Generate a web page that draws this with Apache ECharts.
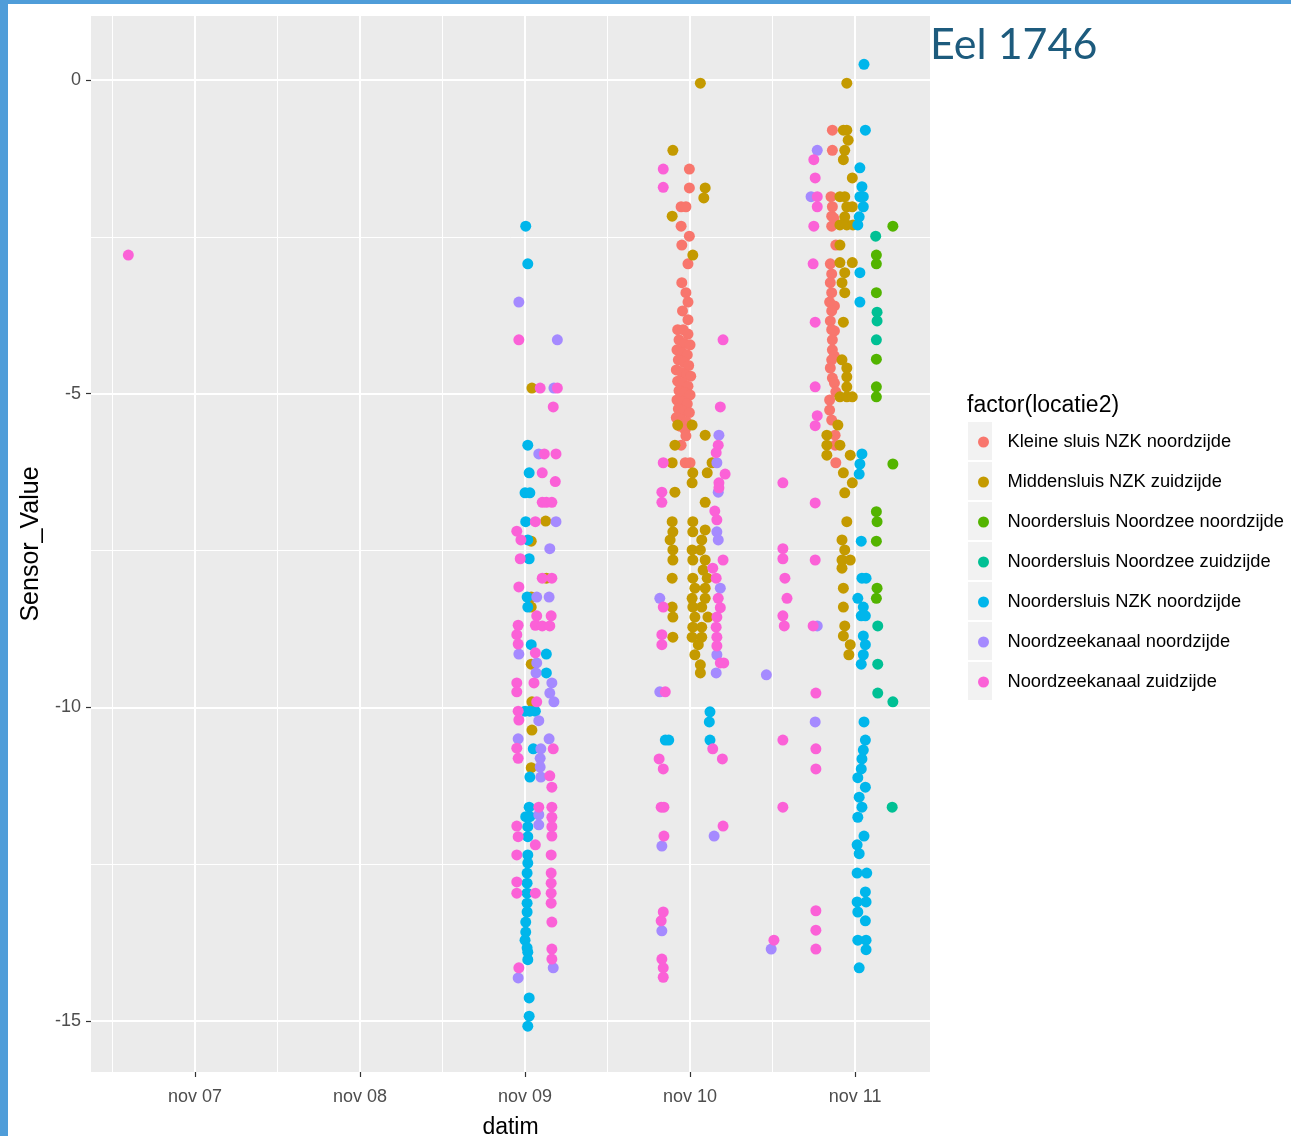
<!DOCTYPE html>
<html>
<head>
<meta charset="utf-8">
<script src="https://cdn.jsdelivr.net/npm/echarts@6/dist/echarts.min.js"></script>
<style>
html,body{margin:0;padding:0;background:#fff;}
#c{width:1291px;height:1136px;}
.bl{position:absolute;left:0;top:0;width:8px;height:1136px;background:#4f9dd9;}
.bt{position:absolute;left:0;top:0;width:1291px;height:4px;background:#4f9dd9;}
</style>
</head>
<body>
<div id="c"></div><div class="bl"></div><div class="bt"></div>
<script>
// x values: hours since nov 07 00:00; y values: Sensor_Value
const seriesNames = [
  'Kleine sluis NZK noordzijde',
  'Middensluis NZK zuidzijde',
  'Noordersluis Noordzee noordzijde',
  'Noordersluis Noordzee zuidzijde',
  'Noordersluis NZK noordzijde',
  'Noordzeekanaal noordzijde',
  'Noordzeekanaal zuidzijde'
];
const seriesColors = ['#F8766D','#C49A00','#53B400','#00C094','#00B6EB','#A58AFF','#FB61D7'];
const dayTicks = [0, 24, 48, 72, 96];
const dayLabels = ['nov 07','nov 08','nov 09','nov 10','nov 11'];
const yTicks = [0, -5, -10, -15];

const kleineSluis = [
  [71.9,-1.42],[71.9,-1.72],[70.7,-2.02],[71.4,-2.02],[70.7,-2.33],[71.9,-2.49],[70.8,-2.63],[71.7,-2.93],[70.8,-3.23],[71.4,-3.39],[71.7,-3.54],[70.9,-3.68],[71.7,-3.82],
  [70.2,-3.98],[71.0,-3.98],[71.7,-4.05],[70.4,-4.14],[71.2,-4.20],[72.0,-4.22],[70.1,-4.30],[70.9,-4.35],[71.6,-4.38],[70.3,-4.46],[71.1,-4.50],[71.8,-4.55],[70.0,-4.62],[70.8,-4.66],[71.5,-4.70],[72.1,-4.72],[70.2,-4.80],[71.0,-4.83],[71.7,-4.88],[70.4,-4.95],[71.2,-4.98],[72.0,-5.02],[70.1,-5.10],[70.9,-5.12],[71.6,-5.16],[70.3,-5.24],[71.1,-5.28],[71.9,-5.30],[70.0,-5.38],[70.8,-5.42],[71.5,-5.45],[70.6,-5.52],[71.3,-5.58],[71.4,-5.67],[70.7,-5.82],[71.3,-6.10],[72.0,-6.10],
  [92.7,-0.80],[92.7,-1.12],[92.5,-1.86],[92.7,-2.02],[92.6,-2.17],[92.6,-2.33],[93.2,-2.63],[92.9,-2.20],[92.4,-2.93],[92.6,-3.09],[92.4,-3.23],[92.6,-3.39],[92.3,-3.54],[93.0,-3.60],[92.6,-3.68],[92.4,-3.84],[93.0,-4.00],[92.6,-3.98],[92.7,-4.14],[92.7,-4.30],[93.0,-4.40],[92.6,-4.46],[92.4,-4.59],[92.7,-4.75],[93.0,-4.83],[93.2,-4.97],[92.3,-5.10],[92.3,-5.26],[92.6,-5.42],[93.1,-5.66],[93.1,-5.82],[93.2,-6.10]
];
const middensluis = [
  [49.0,-4.91],[51.0,-7.03],[48.9,-7.35],[51.1,-7.94],[48.9,-8.24],[48.9,-8.40],[48.9,-9.31],[49.0,-9.91],[49.0,-10.36],[48.9,-10.96],
  [73.5,-0.05],[69.5,-1.12],[74.2,-1.72],[74.0,-1.88],[69.4,-2.17],[72.4,-2.79],
  [70.2,-5.50],[72.3,-5.50],[74.2,-5.66],[69.8,-5.82],[69.4,-6.10],[75.2,-6.10],[72.4,-6.26],[74.5,-6.26],[72.3,-6.42],[69.8,-6.57],[74.2,-6.73],[69.4,-7.04],[72.4,-7.04],[69.5,-7.20],[72.4,-7.20],[74.2,-7.17],[69.1,-7.33],[73.7,-7.33],[69.5,-7.49],[72.3,-7.49],[73.5,-7.49],[69.5,-7.65],[72.4,-7.65],[74.2,-7.65],[73.9,-7.81],[69.4,-7.94],[72.4,-7.94],[74.5,-7.94],[72.7,-8.10],[74.2,-8.10],[72.3,-8.26],[74.2,-8.26],[69.4,-8.40],[72.4,-8.40],[73.7,-8.40],[69.5,-8.56],[72.7,-8.56],[74.6,-8.56],[72.4,-8.72],[73.7,-8.72],[69.5,-8.88],[72.3,-8.88],[73.7,-8.88],[73.2,-9.00],[72.7,-9.16],[73.5,-9.32],[73.5,-9.45],
  [94.8,-0.05],[94.3,-0.80],[94.8,-0.80],[95.0,-0.96],[94.5,-1.12],[94.3,-1.27],[95.6,-1.56],[93.8,-1.86],[94.5,-1.86],[94.8,-2.02],[95.6,-2.02],[94.5,-2.18],[93.8,-2.31],[94.8,-2.31],[95.7,-2.31],[93.8,-2.63],[93.8,-2.91],[95.6,-2.91],[94.5,-3.07],[94.1,-3.23],[94.5,-3.39],[94.3,-3.86],[94.1,-4.46],[94.8,-4.59],[94.8,-4.73],
  [94.8,-4.89],[93.8,-5.05],[94.8,-5.05],[95.6,-5.05],[93.5,-5.50],[91.9,-5.66],[91.9,-5.82],[91.9,-5.98],[93.8,-5.82],[95.3,-5.98],[94.3,-6.26],[95.6,-6.42],[94.5,-6.58],[94.8,-7.04],[94.1,-7.33],[94.5,-7.49],[94.1,-7.65],[95.3,-7.65],[94.1,-7.78],[94.3,-8.10],[94.3,-8.40],[94.5,-8.70],[94.3,-8.86],[95.3,-9.00],[95.1,-9.16]
];
const noordzeeNoord = [
  [101.5,-2.33],[99.1,-2.79],[99.1,-2.93],[99.1,-3.39],[99.1,-4.45],[99.1,-4.89],[99.1,-5.05],[101.5,-6.12],[99.1,-6.88],[99.2,-7.04],[99.1,-7.35],[99.2,-8.10],[99.1,-8.26]
];
const noordzeeZuid = [
  [99.0,-2.49],[99.2,-3.70],[99.2,-3.84],[99.1,-4.14],[99.3,-8.70],[99.3,-9.31],[99.3,-9.77],[101.5,-9.91],[101.4,-11.59]
];
const noordersluisNZK = [
  [48.1,-2.33],[48.4,-2.93],[48.4,-5.82],[48.6,-6.26],[48.0,-6.58],[48.7,-6.58],[48.1,-7.04],[48.4,-7.33],[48.6,-7.63],[48.3,-8.24],[48.4,-8.40],[48.9,-9.00],[51.1,-9.15],[51.1,-9.45],[48.0,-10.06],[48.7,-10.06],[49.5,-10.06],[49.2,-10.66],[48.7,-11.11],
  [48.6,-11.59],[48.1,-11.74],[48.7,-11.74],[48.4,-11.90],[48.4,-12.06],[48.4,-12.35],[48.4,-12.48],[48.3,-12.64],[48.3,-12.80],[48.3,-12.96],[48.3,-13.12],[48.3,-13.26],[48.1,-13.42],[48.1,-13.58],[48.0,-13.71],[48.3,-13.83],[48.4,-13.90],[48.4,-14.02],[48.6,-14.63],[48.6,-14.92],[48.4,-15.08],
  [74.9,-10.07],[74.8,-10.23],[68.4,-10.52],[68.9,-10.52],[74.9,-10.52],
  [97.3,0.25],[97.5,-0.80],[96.7,-1.40],[97.0,-1.70],[96.7,-1.86],[97.2,-1.86],[97.2,-2.02],[96.6,-2.18],[96.4,-2.31],[96.7,-3.07],[96.7,-3.54],[97.0,-5.96],[96.7,-6.12],[96.6,-6.28],[96.9,-7.35],[97.0,-7.94],[97.6,-7.94],[96.4,-8.26],[97.2,-8.40],[96.9,-8.54],[97.5,-8.54],[97.2,-8.86],[97.5,-9.00],[97.2,-9.16],[96.9,-9.31],[97.3,-10.23],[97.5,-10.52],[97.2,-10.68],[97.0,-10.82],[96.9,-10.98],[96.4,-11.12],[97.5,-11.27],[96.6,-11.43],[97.0,-11.59],[96.4,-11.75],[97.3,-12.05],[96.3,-12.19],[96.6,-12.33],[96.3,-12.64],[97.7,-12.64],[97.5,-12.94],[96.3,-13.10],[97.6,-13.10],[96.4,-13.26],[97.5,-13.40],[96.4,-13.71],[97.6,-13.71],[97.6,-13.86],[96.6,-14.15]
];
const kanaalNoord = [
  [47.1,-3.54],[52.7,-4.14],[52.2,-4.91],[50.0,-5.96],[52.5,-7.04],[51.6,-7.47],[49.7,-8.24],[51.5,-8.24],[47.1,-9.15],[49.7,-9.29],[49.6,-9.45],[51.9,-9.61],[51.6,-9.77],[52.2,-9.91],[50.0,-10.21],[47.0,-10.50],[51.5,-10.50],[50.3,-10.66],[50.2,-10.81],[50.2,-10.95],[50.3,-11.11],[50.0,-11.71],[50.0,-11.87],[52.1,-14.15],[47.0,-14.31],
  [76.2,-5.66],[75.9,-6.10],[76.1,-6.57],[75.9,-7.20],[76.1,-7.33],[76.4,-8.10],[67.6,-8.26],[75.9,-9.16],[75.8,-9.45],[67.6,-9.75],[75.5,-12.05],[67.9,-12.21],[67.9,-13.56],
  [83.1,-9.48],[83.8,-13.85],[90.5,-1.12],[89.6,-1.86],[90.5,-8.70],[90.2,-10.23]
];
const kanaalZuid = [
  [-9.7,-2.79],
  [47.1,-4.14],[50.2,-4.91],[52.7,-4.91],[52.1,-5.21],[50.8,-5.96],[52.5,-5.96],[50.5,-6.26],[52.4,-6.40],[50.5,-6.73],[51.1,-6.73],[51.9,-6.73],[49.5,-7.04],[46.8,-7.19],[47.4,-7.33],[47.3,-7.63],[50.5,-7.94],[51.9,-7.94],[47.1,-8.08],[49.7,-8.54],[51.8,-8.54],[47.0,-8.69],[49.5,-8.69],[50.5,-8.70],[51.6,-8.70],[46.8,-8.84],[47.0,-8.99],[49.5,-9.13],[46.8,-9.61],[46.8,-9.75],[49.3,-9.61],[49.7,-9.91],[47.0,-10.06],[47.1,-10.20],[46.8,-10.65],[47.0,-10.81],[52.1,-10.66],[51.6,-11.09],[51.9,-11.27],[50.0,-11.59],[51.9,-11.59],[51.9,-11.75],[46.8,-11.89],[51.9,-11.90],[47.0,-12.06],[51.9,-12.05],[49.5,-12.19],[46.8,-12.35],[51.8,-12.35],[51.8,-12.64],[46.8,-12.78],[51.8,-12.80],[46.8,-12.96],[49.5,-12.96],[51.8,-12.96],[51.8,-13.12],[51.9,-13.42],[51.9,-13.85],[51.9,-14.01],[47.1,-14.15],
  [68.1,-1.42],[68.1,-1.71],[76.8,-4.14],[76.4,-5.21],[76.1,-5.82],[75.8,-5.94],[68.1,-6.10],[77.1,-6.28],[76.2,-6.42],[76.2,-6.50],[67.9,-6.57],[67.9,-6.73],[75.6,-6.87],[75.9,-7.01],[76.8,-7.65],[75.3,-7.78],[75.8,-7.94],[76.1,-8.26],[68.1,-8.40],[76.4,-8.41],[75.9,-8.56],[75.8,-8.72],[67.9,-8.84],[67.9,-9.00],[75.9,-8.88],[75.9,-9.02],[76.4,-9.29],[76.9,-9.29],[68.4,-9.75],[75.3,-10.66],[76.7,-10.82],[67.5,-10.82],[68.1,-10.98],[67.8,-11.59],[68.2,-11.59],[68.2,-12.05],[76.8,-11.89],[68.1,-13.26],[67.8,-13.40],[67.9,-14.01],[68.1,-14.15],[68.1,-14.30],
  [85.5,-6.42],[90.2,-6.74],[85.5,-7.47],[85.5,-7.63],[90.2,-7.65],[85.8,-7.94],[86.1,-8.26],[85.5,-8.54],[85.7,-8.70],[89.9,-8.70],[90.3,-9.77],[85.5,-10.52],[90.3,-10.66],[90.3,-10.98],[85.5,-11.59],[90.3,-13.24],[90.3,-13.55],[84.2,-13.71],[90.3,-13.85],
  [90.0,-1.27],[90.2,-1.56],[90.5,-1.86],[90.5,-2.02],[90.0,-2.33],[89.9,-2.93],[90.2,-3.86],[90.2,-4.89],[90.5,-5.35],[90.2,-5.51]
];
const seriesData = [kleineSluis, middensluis, noordzeeNoord, noordzeeZuid, noordersluisNZK, kanaalNoord, kanaalZuid];

const chart = echarts.init(document.getElementById('c'), null, {renderer: 'canvas'});
const FONT = '"Liberation Sans", Arial, sans-serif';

const keyRects = seriesNames.map((n, i) => ({
  type: 'rect', z: -1,
  shape: {x: 968, y: 422 + i * 40, width: 24, height: 38},
  style: {fill: '#F2F2F2'}
}));

chart.setOption({
  animation: false,
  backgroundColor: '#ffffff',
  title: [
    {text: 'Eel 1746', left: 930, top: 24, padding: 0,
     textStyle: {fontFamily: 'Lato, "Open Sans", sans-serif', fontSize: 43, fontWeight: 'normal', color: '#1d5b7d'}},
    {text: 'factor(locatie2)', left: 967, top: 394, padding: 0,
     textStyle: {fontFamily: FONT, fontSize: 23, fontWeight: 'normal', color: '#000'}}
  ],
  graphic: keyRects,
  legend: {
    orient: 'vertical', left: 978, top: 422, padding: 0, itemGap: 0,
    itemWidth: 38, itemHeight: 11, icon: 'circle', selectedMode: false,
    data: seriesNames,
    textStyle: {fontFamily: FONT, fontSize: 18.3, color: '#000', lineHeight: 40}
  },
  grid: {left: 91, right: 361, top: 16, bottom: 64, show: true, backgroundColor: '#EBEBEB', borderWidth: 0,
         outerBoundsMode: 'none', containLabel: false},
  xAxis: {
    type: 'value', min: -15.13, max: 106.9, minInterval: 24, maxInterval: 24,
    name: 'datim', nameLocation: 'middle', nameGap: 44,
    nameTextStyle: {fontFamily: FONT, fontSize: 23, color: '#000'},
    axisLine: {show: false, onZero: false},
    axisTick: {show: true, length: 5, lineStyle: {color: '#333', width: 1.2}},
    axisLabel: {margin: 16, fontFamily: FONT, fontSize: 18, color: '#4D4D4D',
      showMinLabel: false, showMaxLabel: false,
      formatter: v => { const i = dayTicks.indexOf(v); return i >= 0 ? dayLabels[i] : ''; }},
    splitLine: {show: true, showMinLine: false, showMaxLine: false, lineStyle: {color: '#fff', width: 2}},
    minorTick: {show: false, splitNumber: 2},
    minorSplitLine: {show: true, lineStyle: {color: '#fff', width: 1}}
  },
  yAxis: {
    type: 'value', min: -15.81, max: 1.02, minInterval: 5, maxInterval: 5,
    name: 'Sensor_Value', nameLocation: 'middle', nameGap: 47, nameRotate: 90,
    nameTextStyle: {fontFamily: FONT, fontSize: 25, color: '#000'},
    axisLine: {show: false, onZero: false},
    axisTick: {show: true, length: 5, lineStyle: {color: '#333', width: 1.2}},
    axisLabel: {margin: 10, fontFamily: FONT, fontSize: 18, color: '#4D4D4D',
      showMinLabel: false, showMaxLabel: false,
      formatter: v => yTicks.indexOf(v) >= 0 ? String(v) : ''},
    splitLine: {show: true, showMinLine: false, showMaxLine: false, lineStyle: {color: '#fff', width: 2}},
    minorTick: {show: false, splitNumber: 2},
    minorSplitLine: {show: true, lineStyle: {color: '#fff', width: 1}}
  },
  series: seriesNames.map((n, i) => ({
    name: n, type: 'scatter', data: seriesData[i], symbolSize: 11,
    itemStyle: {color: seriesColors[i], opacity: 1},
    emphasis: {disabled: true}
  }))
});
</script>
</body>
</html>
